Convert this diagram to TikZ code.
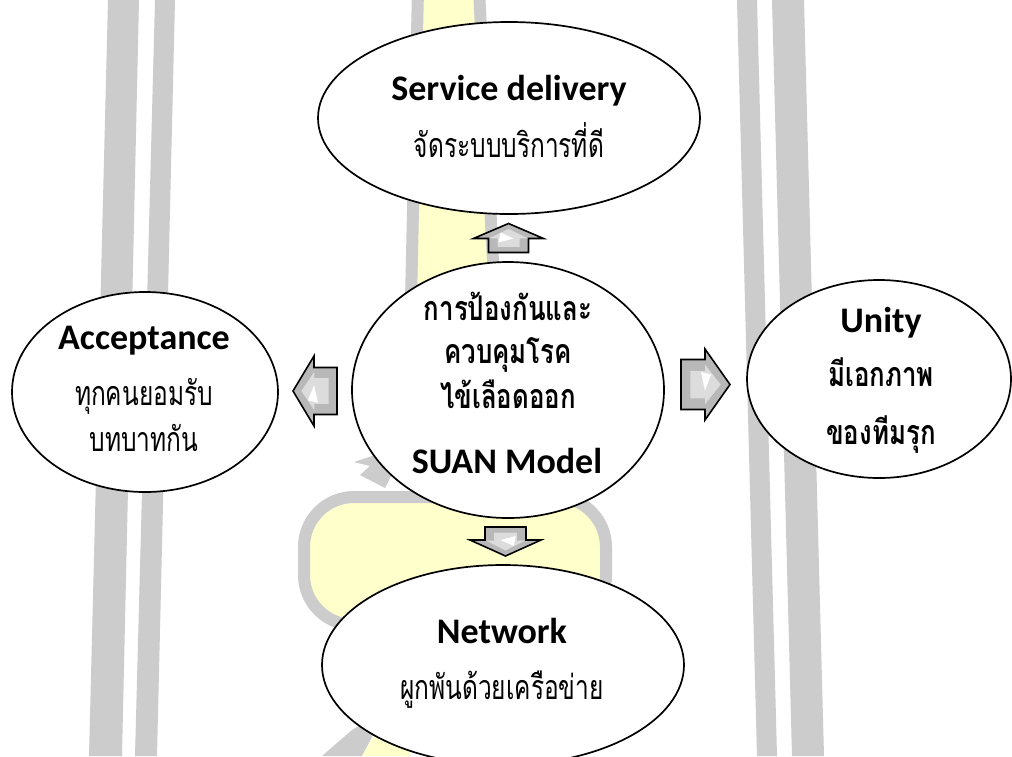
\documentclass[tikz,border=0pt]{standalone}
\usepackage{fontspec}
\setmainfont{Carlito}
\newfontfamily\thai[Script=Thai, FakeStretch=0.72]{Loma}
\newfontfamily\thaib[Script=Thai, FakeStretch=0.76]{Loma}
\usetikzlibrary{shapes.geometric,calc}
\definecolor{wmgray}{HTML}{CCCCCC}
\definecolor{wmyellow}{HTML}{FFFFCC}
\definecolor{arrfill}{HTML}{B8B8B8}
\definecolor{arrlight}{HTML}{DCDCDC}

\tikzset{
  bubble/.style={ellipse, draw=black, line width=1.7pt, fill=white, inner sep=0pt},
  entitle/.style={anchor=base, inner sep=0pt, font=\fontsize{36}{40}\selectfont\bfseries},
  thairg/.style={anchor=base, inner sep=0pt, font=\thai\fontsize{34}{38}\selectfont},
  thaibd/.style={anchor=base, inner sep=0pt, font=\thaib\bfseries\fontsize{34}{38}\selectfont},
  wmband/.style={fill=wmyellow, draw=wmgray, line width=12pt, line join=round},
}

% block arrow: #1 centre, #2 direction, #3 length, #4 head length, #5 head width, #6 shaft width
\newcommand\blockarrow[6]{%
  \begin{scope}[shift={(#1)}, rotate=#2]
    \filldraw[fill=arrfill, draw=black, line width=1.6pt, line join=miter]
      ({-#3/2},{-#6/2}) -- ({#3/2-#4},{-#6/2}) -- ({#3/2-#4},{-#5/2}) -- ({#3/2},0)
      -- ({#3/2-#4},{#5/2}) -- ({#3/2-#4},{#6/2}) -- ({-#3/2},{#6/2}) -- cycle;
    \fill[arrlight, xscale=0.62, yscale=0.55]
      ({-#3/2},{-#6/2}) -- ({#3/2-#4},{-#6/2}) -- ({#3/2-#4},{-#5/2}) -- ({#3/2},0)
      -- ({#3/2-#4},{#5/2}) -- ({#3/2-#4},{#6/2}) -- ({-#3/2},{#6/2}) -- cycle;
    \fill[white] ({#3/2-#4-4},{-#6/4}) -- ({#3/2-#4+6},{-#6/5}) -- ({#3/2-#4},{#6/8}) -- cycle;
  \end{scope}}

\begin{document}
\begin{tikzpicture}[x=1pt, y=-1pt]
  \useasboundingbox (0,0) rectangle (1012,756);
  \clip (0,0) rectangle (1012,756);
  \fill[white] (0,0) rectangle (1012,756);

  % background stripes
  \fill[wmgray] (108,0) -- (139,0) -- (122,756) -- (89,756) -- cycle;
  \fill[wmgray] (155,0) -- (175,0) -- (157,756) -- (135,756) -- cycle;
  \fill[wmgray] (737,0) -- (757,0) -- (777,756) -- (757,756) -- cycle;
  \fill[wmgray] (772,0) -- (804,0) -- (824,756) -- (792,756) -- cycle;

  % central emblem
  \draw[wmband] (418,-10) -- (479,-10) -- (495,300) -- (411,300) -- cycle;
  \draw[wmband, rounded corners=50pt] (304,497) rectangle (606,625);
  \fill[wmgray] (390,450) -- (354,462) -- (370,466) -- (360,475) -- (385,488) -- (394,470) -- cycle;
  \fill[wmgray] (322,756) -- (352,730) -- (372,718) -- (382,718) -- (362,756) -- cycle;
  \fill[wmyellow] (362,756) -- (382,722) -- (410,716) -- (410,756) -- cycle;

  % bubbles
  \node[bubble, minimum width=382pt, minimum height=192pt] (svc) at (509,118) {};
  \node[bubble, minimum width=312pt, minimum height=256pt] (core) at (508,390) {};
  \node[bubble, minimum width=266pt, minimum height=200pt] (acc) at (145,392) {};
  \node[bubble, minimum width=264pt, minimum height=198pt] (uni) at (879,379) {};
  \node[bubble, minimum width=362pt, minimum height=200pt] (net) at (503,665) {};

  % arrows between the bubbles
  \coordinate (aup) at ($(core.north)!0.5!(svc.south)$);
  \coordinate (alt) at ($(core.west)!0.5!(acc.east)$);
  \coordinate (art) at ($(core.east)!0.5!(uni.west)$);
  \coordinate (adn) at ($(core.south)!0.5!(net.north)$);
  \blockarrow{aup}{90}{29}{15}{70}{40}
  \blockarrow{alt}{180}{44}{21}{70}{47}
  \blockarrow{art}{0}{49}{25}{71}{50}
  \blockarrow{adn}{-90}{29}{16}{71}{41}

  % labels
  \node[entitle] (svc1) at (509,100) {Service delivery};
  \node[thairg] (svc2) at (509,157) {จัดระบบบริการที่ดี};

  \node[thaibd] (core1) at (508,320) {การป้องกันและ};
  \node[thaibd] (core2) at (508,363) {ควบคุมโรค};
  \node[thaibd] (core3) at (508,408) {ไข้เลือดออก};
  \node[entitle] (core4) at (507,473) {SUAN Model};

  \node[entitle] (acc1) at (144,349) {Acceptance};
  \node[thairg] (acc2) at (144,405) {ทุกคนยอมรับ};
  \node[thairg] (acc3) at (144,451) {บทบาทกัน};

  \node[entitle] (uni1) at (881,332) {Unity};
  \node[thaibd] (uni2) at (881,386) {มีเอกภาพ};
  \node[thaibd] (uni3) at (881,444) {ของทีมรุก};

  \node[entitle] (net1) at (502,643) {Network};
  \node[thairg] (net2) at (502,699) {ผูกพันด้วยเครือข่าย};
\end{tikzpicture}
\end{document}
